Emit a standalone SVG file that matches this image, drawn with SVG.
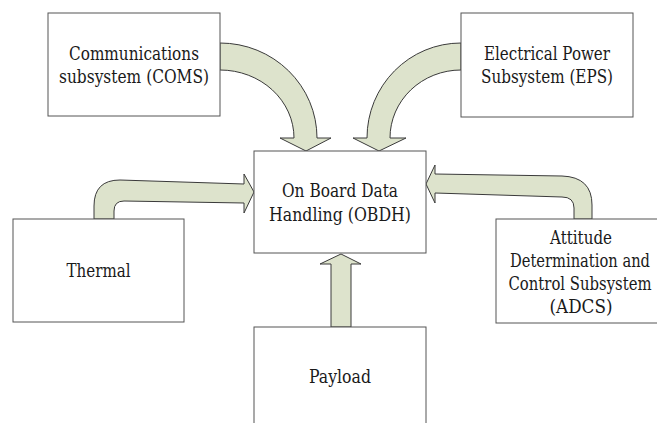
<svg xmlns="http://www.w3.org/2000/svg" width="657" height="423" viewBox="0 0 657 423">
<style>
.box{fill:#fff;stroke:#555;stroke-width:1}
.arr{fill:#dde3cc;stroke:#3a3a3a;stroke-width:1;stroke-linejoin:miter}
.t{font-family:'DejaVu Serif','Liberation Serif',serif;font-size:18px;fill:#1a1a1a;text-anchor:middle}
.s{font-size:16px}
</style>
<rect width="657" height="423" fill="#fff"/>
<g id="connectors">
<path class="arr" d="M220,43 A97,95 0 0 1 317,138 L331,138 L306,151 L280,138 L294,138 A74,68 0 0 0 220,70 Z"/>
<path class="arr" d="M461,43 A94,95 0 0 0 367,138 L353,138 L379,151 L406,138 L390,138 A71,68 0 0 1 461,70 Z"/>
<path class="arr" d="M94,219 L94,206 Q94,180 120,180 L244,184 L244,174 L254,192 L244,213 L244,203 L124,201 Q114,201 114,211 L114,219 Z"/>
<path class="arr" d="M426,184 L435,165 L435,174 L562,176 Q592,177 592,205 L592,219 L574,219 L574,208 Q574,197 562,197 L435,193 L435,203 Z"/>
<path class="arr" d="M331,327 L331,264 L320,264 L341,254 L361,264 L351,264 L351,327 Z"/>
</g>
<g id="coms">
<rect class="box" x="48" y="13" width="172" height="103"/>
<text class="t" x="134" y="60" textLength="130" lengthAdjust="spacingAndGlyphs">Communications</text>
<text class="t" x="134" y="83" textLength="150" lengthAdjust="spacingAndGlyphs">subsystem (COMS)</text>
</g>
<g id="eps">
<rect class="box" x="461" y="13" width="172" height="104"/>
<text class="t" x="547" y="60" textLength="126" lengthAdjust="spacingAndGlyphs">Electrical Power</text>
<text class="t" x="547" y="83" textLength="132" lengthAdjust="spacingAndGlyphs">Subsystem (EPS)</text>
</g>
<g id="obdh">
<rect class="box" x="254" y="151" width="172" height="102"/>
<text class="t" x="340" y="197" textLength="116" lengthAdjust="spacingAndGlyphs">On Board Data</text>
<text class="t" x="340" y="221" textLength="142" lengthAdjust="spacingAndGlyphs">Handling (OBDH)</text>
</g>
<g id="thermal">
<rect class="box" x="13" y="219" width="171" height="103"/>
<text class="t" x="98.5" y="277" textLength="64" lengthAdjust="spacingAndGlyphs">Thermal</text>
</g>
<g id="adcs">
<rect class="box" x="496" y="219" width="172" height="104"/>
<text class="t" x="581" y="244" textLength="62" lengthAdjust="spacingAndGlyphs">Attitude</text>
<text class="t s" x="580" y="267" textLength="140" lengthAdjust="spacingAndGlyphs" style="font-size:18px">Determination and</text>
<text class="t s" x="580" y="290" textLength="143" lengthAdjust="spacingAndGlyphs" style="font-size:18px">Control Subsystem</text>
<text class="t" x="581" y="313" textLength="63" lengthAdjust="spacingAndGlyphs">(ADCS)</text>
</g>
<g id="payload">
<rect class="box" x="254" y="327" width="172" height="110"/>
<text class="t" x="340" y="383" textLength="62" lengthAdjust="spacingAndGlyphs">Payload</text>
</g>
</svg>
